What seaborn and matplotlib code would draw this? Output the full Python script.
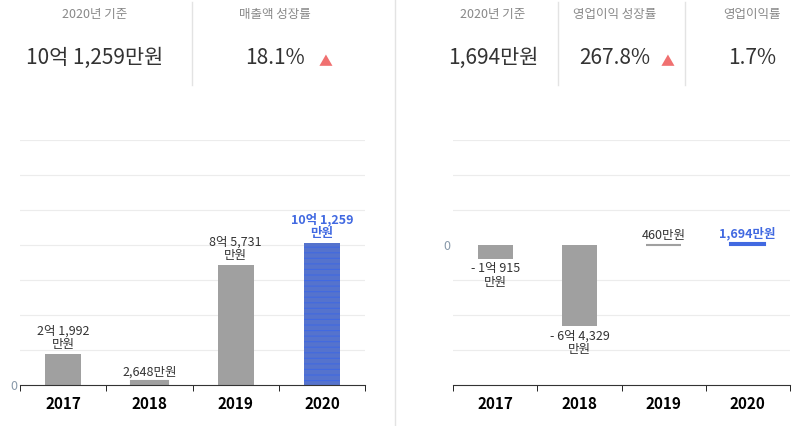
import matplotlib
matplotlib.use("Agg")
import matplotlib.pyplot as plt
import seaborn as sns
import pandas as pd
import numpy as np

years = ["2017", "2018", "2019", "2020"]
revenue = [21992, 2648, 85731, 101259]
revenue_labels = ["2억 1,992\n만원", "2,648만원", "8억 5,731\n만원", "10억 1,259\n만원"]
profit = [-10915, -64329, 460, 1694]
profit_labels = ["- 1억 915\n만원", "- 6억 4,329\n만원", "460만원", "1,694만원"]

plt.rcParams["font.family"] = "Noto Sans CJK KR"
fig = plt.figure(figsize=(8.01, 4.26), dpi=100)

gray = "#a0a0a0"
blue = "#4169e1"
colors = [gray, gray, gray, blue]
hatches = ["////", "....", "xx", "---"]
plt.rcParams["hatch.linewidth"] = 0.8

def panel(rect, vals, labels, ylim, step):
    ax = fig.add_axes(rect)
    df = pd.DataFrame({"year": years, "v": vals})
    sns.barplot(data=df, x="year", y="v", ax=ax, width=0.42, palette=colors, hue="year", legend=False)
    for i, p in enumerate(ax.patches):
        p.set_hatch(hatches[i])
        p.set_edgecolor(colors[i])
        p.set_linewidth(1.5 if abs(vals[i]) < 3000 else 0)
    ax.set_ylim(*ylim)
    grid = list(np.arange(0, ylim[1], step)[1:]) + list(np.arange(0, ylim[0], -step)[1:]) + [ylim[1]]
    for g in grid:
        ax.axhline(g, color="#ececec", lw=0.8, zorder=0)
    for s in ["top", "right", "left"]:
        ax.spines[s].set_visible(False)
    ax.spines["bottom"].set_position(("data", ylim[0]))
    ax.spines["bottom"].set_color("#333333")
    ax.set_yticks([0]); ax.set_yticklabels(["0"], color="#8899aa", fontsize=9)
    ax.tick_params(axis="y", length=0, pad=2)
    ax.tick_params(axis="x", labelsize=11, pad=8)
    for t in ax.get_xticklabels():
        t.set_fontweight("bold")
    ax.set_xticks([-0.5, 0.5, 1.5, 2.5, 3.5], minor=True)
    ax.tick_params(axis="x", which="minor", length=4)
    ax.tick_params(axis="x", which="major", length=0)
    ax.set_xlim(-0.5, 3.5)
    ax.set_xlabel(""); ax.set_ylabel("")
    span = ylim[1] - ylim[0]
    for i, (v, l) in enumerate(zip(vals, labels)):
        c = blue if i == 3 else "#333333"
        w = "bold" if i == 3 else "normal"
        if v >= 0:
            ax.text(i, v + span * 0.012, l, ha="center", va="bottom", fontsize=9, color=c, fontweight=w, linespacing=1.1)
        else:
            ax.text(i, v - span * 0.012, l, ha="center", va="top", fontsize=9, color=c, linespacing=1.1)
    return ax

panel([0.025, 0.096, 0.431, 0.575], revenue, revenue_labels, (0, 175000), 25000)
panel([0.566, 0.096, 0.42, 0.575], profit, profit_labels, (-111000, 83400), 27800)

def hdr(x, title, value):
    fig.text(x, 0.965, title, ha="center", va="center", fontsize=9, color="#888888")
    fig.text(x, 0.865, value, ha="center", va="center", fontsize=15, color="#333333")

hdr(95/801, "2020년 기준", "10억 1,259만원")
hdr(275/801, "매출액 성장률", "18.1%")
hdr(493/801, "2020년 기준", "1,694만원")
hdr(615/801, "영업이익 성장률", "267.8%")
hdr(752/801, "영업이익률", "1.7%")
fig.text(326/801, 0.855, "▲", ha="center", va="center", fontsize=10, color="#f07070")
fig.text(668/801, 0.855, "▲", ha="center", va="center", fontsize=10, color="#f07070")
for x in [192, 558, 685]:
    fig.add_artist(plt.Line2D([x/801, x/801], [0.80, 0.995], color="#e3e3e3", lw=1))
fig.add_artist(plt.Line2D([395/801, 395/801], [0.0, 1.0], color="#e3e3e3", lw=1))

fig.savefig("out.png", dpi=100)
